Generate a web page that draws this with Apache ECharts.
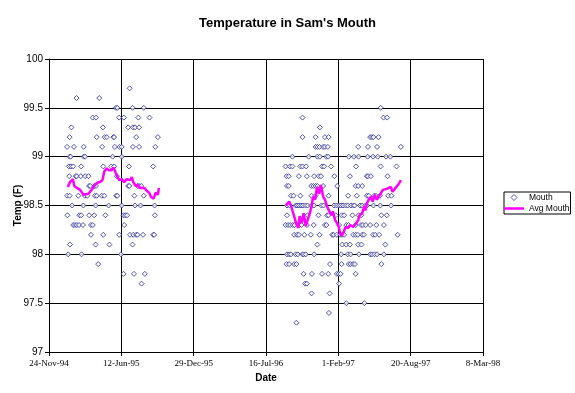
<!DOCTYPE html>
<html>
<head>
<meta charset="utf-8">
<script src="https://cdn.jsdelivr.net/npm/echarts@6/dist/echarts.min.js"></script>
<style>html,body{margin:0;padding:0;background:#fff}#c{width:575px;height:393px}</style>
</head>
<body>
<div id="c"></div>
<script>
// X axis: days since 24-Nov-94; tick every 200 days
const xTickLabels = ['24-Nov-94','12-Jun-95','29-Dec-95','16-Jul-96','1-Feb-97','20-Aug-97','8-Mar-98'];
const yTicks = [97, 97.5, 98, 98.5, 99, 99.5, 100];

// Mouth readings, grouped by temperature row (°F) -> days since 24-Nov-94
const rowTemps = [99.7, 99.6, 99.5, 99.4, 99.3, 99.2, 99.1, 99.0, 98.9, 98.8, 98.7, 98.6, 98.5, 98.4, 98.3, 98.2, 98.1, 98.0, 97.9, 97.8, 97.7, 97.6, 97.5, 97.4, 97.3];
const rowDays1995 = [
  [223],
  [76, 139],
  [185, 189, 231, 262],
  [121, 130, 194, 207, 247, 278],
  [62, 149, 219, 232, 238, 249],
  [57, 132, 154, 160, 178, 180, 241, 301],
  [50, 69, 96, 147, 182, 195, 201, 232, 249, 294],
  [57, 60, 96, 100, 176, 201],
  [55, 61, 67, 89, 150, 172, 180, 221, 288],
  [56, 74, 77, 88, 100, 109, 188],
  [111, 114, 126, 130, 219, 222, 245, 249, 255],
  [50, 57, 81, 99, 106, 127, 132, 146, 153, 186, 189, 236, 262],
  [64, 95, 129, 165, 201, 238, 253, 292],
  [51, 84, 89, 111, 125, 156, 206, 211, 216, 293],
  [67, 72, 77, 83, 94, 116, 121, 208],
  [116, 150, 194, 224, 233, 241, 245, 260, 288, 291],
  [58, 129, 167, 231],
  [53, 90, 199],
  [136],
  [206, 235, 265],
  [256],
  [], [], [], []
];
const rowDays1996 = [
  [],
  [],
  [917],
  [701, 925, 935],
  [749],
  [701, 737, 763, 773, 888, 893, 897, 911],
  [737, 742, 748, 758, 763, 771, 855, 882, 907, 973],
  [673, 718, 742, 749, 767, 772, 829, 843, 856, 881, 896, 909, 932, 944],
  [654, 666, 673, 695, 701, 711, 755, 761, 780, 849, 917, 961],
  [657, 663, 691, 713, 733, 746, 752, 789, 832, 879, 882, 890, 936],
  [658, 663, 725, 731, 737, 742, 758, 797, 848, 855, 866],
  [669, 676, 695, 726, 737, 773, 827, 851, 879, 884, 899, 904, 915, 938, 947],
  [658, 665, 682, 686, 691, 697, 702, 709, 715, 726, 733, 753, 759, 788, 795, 801, 807, 813, 820, 826, 835, 842, 845, 860, 866, 875, 879, 897, 916, 946],
  [658, 715, 745, 769, 773, 793, 809, 816, 839, 856, 863, 919, 934],
  [654, 661, 667, 674, 679, 692, 698, 713, 732, 763, 767, 802, 822, 828, 848, 863, 868, 876, 888, 905, 926],
  [678, 686, 691, 706, 724, 748, 783, 787, 796, 805, 810, 816, 841, 848, 854, 866, 871, 896, 902, 913, 964],
  [742, 811, 822, 832, 855, 864, 930],
  [658, 664, 669, 682, 688, 701, 704, 710, 733, 808, 826, 834, 857, 888, 893, 900, 907, 926],
  [657, 664, 678, 684, 777, 809, 829, 834, 841, 846, 919],
  [704, 727, 755, 772, 796, 801, 806, 848],
  [708, 713, 802],
  [726, 776],
  [822, 872],
  [774],
  [684]
];

// Running average ("Avg Mouth")
const avg1Day  = [52, 58, 66, 70, 77, 86, 95, 100, 109, 118, 125, 132, 141, 148, 153, 160, 166, 173, 178, 183, 187, 194, 201, 208, 215, 224, 229, 233, 240, 247, 251, 256, 264, 270, 277, 282, 289, 295, 301, 304];
const avg1Temp = [98.69, 98.74, 98.77, 98.70, 98.68, 98.66, 98.61, 98.63, 98.62, 98.66, 98.70, 98.73, 98.74, 98.76, 98.85, 98.88, 98.86, 98.86, 98.89, 98.85, 98.81, 98.76, 98.77, 98.74, 98.77, 98.76, 98.79, 98.74, 98.70, 98.71, 98.68, 98.66, 98.68, 98.65, 98.63, 98.59, 98.57, 98.63, 98.61, 98.68];
const avg2Day  = [655, 664, 670, 677, 684, 689, 693, 699, 704, 710, 715, 721, 726, 730, 736, 741, 747, 752, 758, 763, 769, 774, 781, 785, 791, 796, 800, 804, 809, 815, 820, 827, 833, 841, 845, 850, 855, 859, 866, 871, 875, 879, 884, 890, 895, 901, 906, 912, 917, 923, 928, 934, 939, 945, 950, 956, 961, 967, 973];
const avg2Temp = [98.50, 98.54, 98.49, 98.40, 98.31, 98.27, 98.39, 98.32, 98.42, 98.29, 98.35, 98.42, 98.49, 98.59, 98.56, 98.69, 98.62, 98.71, 98.59, 98.56, 98.49, 98.45, 98.40, 98.44, 98.35, 98.37, 98.30, 98.23, 98.19, 98.23, 98.28, 98.27, 98.30, 98.28, 98.30, 98.32, 98.35, 98.40, 98.42, 98.49, 98.45, 98.52, 98.56, 98.59, 98.54, 98.61, 98.56, 98.59, 98.58, 98.66, 98.64, 98.67, 98.66, 98.69, 98.64, 98.67, 98.69, 98.72, 98.76];

const mouthData = [];
[rowDays1995, rowDays1996].forEach(function (rows) {
  rows.forEach(function (days, i) {
    days.forEach(function (d) { mouthData.push([d, rowTemps[i]]); });
  });
});
const avgData = avg1Day.map((d, i) => [d, avg1Temp[i]])
  .concat([[480, '-']])
  .concat(avg2Day.map((d, i) => [d, avg2Temp[i]]));

const blue = '#2b2b98';
const font = 'Liberation Sans, Arial';
const chart = echarts.init(document.getElementById('c'));
chart.setOption({
  animation: false,
  backgroundColor: '#fff',
  title: {
    text: "Temperature in Sam's Mouth",
    left: 'center', top: 12,
    textStyle: { fontFamily: font, fontSize: 13, fontWeight: 'bold', color: '#000' }
  },
  legend: {
    orient: 'vertical', left: 504, top: 192,
    itemWidth: 20, itemHeight: 6, itemGap: 2,
    padding: [1, 1, 1, 0],
    symbolKeepAspect: true,
    borderColor: '#000', borderWidth: 1, borderRadius: 0,
    textStyle: { fontFamily: font, fontSize: 8.5, color: '#000' },
    data: [
      { name: 'Mouth', icon: 'path://M5,0 L10,5 L5,10 L0,5 Z',
        itemStyle: { color: '#fff', borderColor: blue, borderWidth: 1 } },
      { name: 'Avg Mouth', icon: 'path://M0,0 L20,0 L20,2.5 L0,2.5 Z',
        itemStyle: { color: '#ff00ff', borderWidth: 0 } }
    ]
  },
  grid: { left: 49, top: 59, width: 434, height: 293, containLabel: false, outerBoundsMode: 'none' },
  xAxis: {
    type: 'value', min: 0, max: 1200, interval: 200,
    name: 'Date', nameLocation: 'middle', nameGap: 16,
    nameTextStyle: { fontFamily: font, fontSize: 10, fontWeight: 'bold', color: '#000' },
    axisLine: { lineStyle: { color: '#000' } },
    axisTick: { show: true, length: 4, lineStyle: { color: '#000' } },
    axisLabel: {
      margin: 7, color: '#000', fontFamily: 'Liberation Serif, Times New Roman', fontSize: 9,
      formatter: function (v) { return xTickLabels[Math.round(v / 200)] || ''; }
    },
    splitLine: { show: true, lineStyle: { color: '#000', width: 1 } }
  },
  yAxis: {
    type: 'value', min: yTicks[0], max: yTicks[yTicks.length - 1], interval: 0.5,
    name: 'Temp (F)', nameLocation: 'middle', nameGap: 26, nameRotate: 90,
    nameMoveOverlap: false,
    nameTextStyle: { fontFamily: font, fontSize: 10, fontWeight: 'bold', color: '#000' },
    axisLine: { show: true, lineStyle: { color: '#000' } },
    axisTick: { show: true, length: 4, lineStyle: { color: '#000' } },
    axisLabel: { margin: 6, color: '#000', fontFamily: font, fontSize: 10 },
    splitLine: { show: true, lineStyle: { color: '#000', width: 1 } }
  },
  series: [
    {
      name: 'Mouth', type: 'scatter', symbol: 'diamond', symbolSize: 5,
      itemStyle: { color: '#fff', borderColor: blue, borderWidth: 1 },
      data: mouthData, z: 3
    },
    {
      name: 'Avg Mouth', type: 'line', showSymbol: false, symbol: 'none',
      connectNulls: false,
      lineStyle: { color: '#ff00ff', width: 2.5 },
      itemStyle: { color: '#ff00ff' },
      data: avgData, z: 4
    }
  ]
});
</script>
</body>
</html>
